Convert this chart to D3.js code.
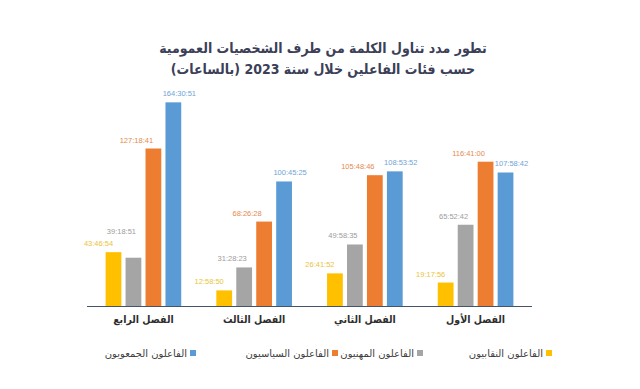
<!DOCTYPE html>
<html>
<head>
<meta charset="utf-8">
<script src="https://cdn.jsdelivr.net/npm/d3@7"></script>
<style>
  html, body { margin: 0; padding: 0; background: #ffffff; }
  svg { display: block; }
</style>
</head>
<body>
<svg id="chart" width="640" height="389"></svg>
<script>
// ---- Data ----
const titleLines = [
  "تطور مدد تناول الكلمة من طرف الشخصيات العمومية",
  "حسب فئات الفاعلين خلال سنة 2023 (بالساعات)"
];
// categories left to right as drawn
const categories = ["الفصل الرابع", "الفصل الثالث", "الفصل الثاني", "الفصل الأول"];
const seriesNames = ["الفاعلون النقابيون", "الفاعلون المهنيون", "الفاعلون السياسيون", "الفاعلون الجمعويون"];
// values as printed (hh:mm:ss), in category order above
const unionists     = ["43:46:54", "12:58:50", "26:41:52", "19:17:56"];
const professionals = ["39:18:51", "31:28:23", "49:58:35", "65:52:42"];
const politicians   = ["127:18:41", "68:26:28", "105:48:46", "116:41:00"];
const associations  = ["164:30:51", "100:45:25", "108:53:52", "107:58:42"];

const seriesLabels = [unionists, professionals, politicians, associations];
const barColors   = ["#FFC000", "#A5A5A5", "#ED7D31", "#5B9BD5"];
const labelColors = ["#E9C43A", "#9C9C9C", "#E58A4E", "#6FA3D6"];
const labelDx     = [-15, -12, -17, 6];

function toHours(s) {
  const p = s.split(":").map(Number);
  return p[0] + p[1] / 60 + p[2] / 3600;
}

const rows = [];
categories.forEach((c, ci) => {
  seriesNames.forEach((s, si) => {
    rows.push({ cat: c, si, label: seriesLabels[si][ci], value: toHours(seriesLabels[si][ci]) });
  });
});

// ---- Layout ----
const svg = d3.select("#chart");
const baseY = 306.5;
const arabicFont = "'DejaVu Sans Condensed', 'DejaVu Sans', sans-serif";

const x0 = d3.scaleBand().domain(categories).range([87, 532]).paddingInner(0.317).paddingOuter(0.168);
const x1 = d3.scaleBand().domain(d3.range(seriesNames.length)).range([0, x0.bandwidth()]).paddingInner(0.21).paddingOuter(0);
const y = d3.scaleLinear().domain([0, 170]).range([baseY, baseY - 170 * 1.241]);

// Title
svg.append("g").selectAll("text").data(titleLines).join("text")
  .attr("x", 323).attr("y", (d, i) => 53 + i * 21)
  .attr("text-anchor", "middle")
  .attr("direction", "rtl")
  .attr("font-family", arabicFont)
  .attr("font-stretch", "condensed")
  .attr("font-size", 14)
  .attr("font-weight", "bold")
  .attr("fill", "#3B4058")
  .text(d => d);

// Bars
const g = svg.append("g");
g.selectAll("rect").data(rows).join("rect")
  .attr("x", d => x0(d.cat) + x1(d.si))
  .attr("y", d => y(d.value))
  .attr("width", x1.bandwidth())
  .attr("height", d => baseY - y(d.value))
  .attr("fill", d => barColors[d.si]);

// Value label positions with simple collision avoidance inside each group
const labelW = 33;
rows.forEach(d => {
  d.lx = x0(d.cat) + x1(d.si) + x1.bandwidth() / 2 + labelDx[d.si];
  d.ly = y(d.value) - 6;
});
categories.forEach(c => {
  const grp = rows.filter(r => r.cat === c);
  grp.forEach((d, i) => {
    for (let j = 0; j < i; j++) {
      const o = grp[j];
      if (Math.abs(o.lx - d.lx) < labelW && Math.abs(o.ly - d.ly) < 9) {
        d.ly = Math.min(d.ly, o.ly - 12);
      }
    }
  });
});

g.selectAll("text.val").data(rows).join("text")
  .attr("class", "val")
  .attr("x", d => d.lx)
  .attr("y", d => d.ly)
  .attr("text-anchor", "middle")
  .attr("font-family", "'Liberation Sans', Arial, sans-serif")
  .attr("font-size", 7.5)
  .attr("fill", d => labelColors[d.si])
  .text(d => d.label);

// Axis
const xAxis = d3.axisBottom(x0).tickSize(0).tickPadding(7);
const ax = svg.append("g").attr("transform", `translate(0,${baseY})`).call(xAxis);
ax.select(".domain").attr("stroke", "#44546A").attr("stroke-width", 1.2).attr("d", "M87,0H532");
ax.selectAll(".tick text")
  .attr("font-family", arabicFont)
  .attr("font-stretch", "condensed")
  .attr("font-size", 10.5)
  .attr("font-weight", "bold")
  .attr("fill", "#2E2E2E")
  .attr("direction", "rtl")
  .attr("dy", "0.9em");

// Legend (right to left)
const legendX = [552, 423, 338, 196];
const lg = svg.append("g").selectAll("g").data(seriesNames).join("g")
  .attr("transform", (d, i) => `translate(${legendX[i]},353)`);
lg.append("rect").attr("x", -6).attr("y", -3).attr("width", 6).attr("height", 6)
  .attr("fill", (d, i) => barColors[i]);
lg.append("text")
  .attr("x", -9).attr("y", 0).attr("dy", "0.35em")
  .attr("text-anchor", "end")
  .attr("direction", "ltr")
  .attr("font-family", "'DejaVu Sans', sans-serif")
  .attr("font-size", 10)
  .attr("fill", "#404040")
  .text(d => d);
</script>
</body>
</html>
